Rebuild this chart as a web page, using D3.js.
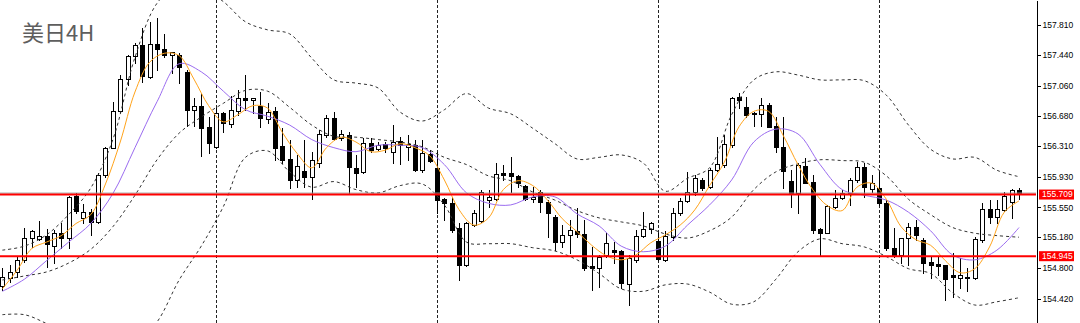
<!DOCTYPE html>
<html>
<head>
<meta charset="utf-8">
<script src="https://cdn.jsdelivr.net/npm/d3@7"></script>
<style>
body { margin: 0; background: #fff; }
svg { display: block; }
.axis text { font-family: "Liberation Sans", Arial, sans-serif; font-size: 8.5px; fill: #000; }
.axis path, .axis line { stroke: #000; shape-rendering: crispEdges; }
</style>
</head>
<body>
<svg id="chart" width="1080" height="323"></svg>
<script>
// USDJPY 4H candles
const opens = [154.58,154.68,154.75,154.90,155.17,155.16,155.20,155.07,155.23,155.17,155.69,155.42,155.49,155.37,155.95,156.29,156.75,157.14,157.43,157.56,
157.17,157.58,157.51,157.44,157.44,157.23,156.76,156.81,156.55,156.30,156.72,156.58,156.74,156.91,156.88,156.81,156.65,156.74,156.31,156.15,
155.89,156.00,155.93,156.10,156.45,156.66,156.41,156.45,156.04,155.99,156.35,156.27,156.34,156.24,156.37,156.30,156.32,156.01,156.21,156.04,
155.65,155.61,155.29,154.84,155.33,155.38,155.64,155.65,155.98,155.98,155.94,155.82,155.65,155.74,155.62,155.43,155.12,155.21,155.26,155.22,
154.82,154.80,154.96,155.02,155.01,154.60,154.90,155.20,155.28,155.13,154.90,155.18,155.48,155.63,155.74,155.89,155.80,156.01,156.08,156.32,
156.92,156.79,156.71,156.71,156.82,156.56,156.30,155.88,155.73,156.06,155.87,155.28,155.23,155.56,155.67,155.73,155.89,156.05,155.78,155.79,
155.60,155.05,154.96,155.17,155.31,155.15,154.87,154.85,154.84,154.71,154.68,154.69,154.68,155.15,155.53,155.43,155.52,155.62,155.77];
const highs = [154.80,154.84,154.94,155.30,155.27,155.38,155.28,155.27,155.36,155.69,155.73,155.59,155.53,155.98,156.30,156.86,157.19,157.44,157.59,157.77,
157.85,157.90,157.70,157.48,157.46,157.25,156.91,156.96,156.67,156.78,156.73,156.93,157.00,157.19,156.91,156.98,156.84,156.79,156.53,156.39,
156.20,156.39,156.24,156.51,156.70,156.73,156.51,156.49,156.20,156.41,156.41,156.36,156.36,156.57,156.42,156.45,156.39,156.39,156.26,156.24,
155.67,155.68,155.36,155.37,155.52,155.77,155.77,156.10,156.08,156.18,155.95,155.83,155.80,155.77,155.64,155.46,155.33,155.39,155.54,155.39,
155.06,154.96,155.23,155.12,155.02,154.96,155.27,155.49,155.37,155.23,155.26,155.54,155.67,155.99,155.95,155.91,156.04,156.42,156.45,156.92,
156.97,156.92,156.73,156.91,156.84,156.67,156.67,156.01,156.10,156.16,155.95,155.30,155.58,155.77,155.77,155.92,156.11,156.10,155.95,155.99,
155.64,155.30,155.17,155.36,155.39,155.17,154.94,154.95,154.84,154.99,154.92,154.80,155.18,155.60,155.64,155.64,155.74,155.78,155.79];
const lows = [154.53,154.63,154.69,154.87,155.06,155.15,154.81,154.86,155.05,155.05,155.48,155.36,155.21,155.36,155.93,156.29,156.73,157.07,157.34,157.10,
157.15,157.25,157.41,157.22,157.09,156.56,156.56,156.19,156.22,156.29,156.48,156.55,156.70,156.76,156.72,156.55,156.60,156.14,156.10,155.79,
155.80,155.80,155.65,156.05,156.42,156.39,156.39,155.73,155.80,155.98,156.24,156.26,156.24,156.10,156.09,156.14,156.00,155.99,156.11,155.48,
155.39,155.25,154.65,154.82,155.32,155.37,155.56,155.64,155.89,155.74,155.80,155.64,155.62,155.49,155.18,155.02,155.06,154.99,155.18,154.77,
154.53,154.56,154.94,154.86,154.55,154.34,154.87,155.18,155.23,154.90,154.89,155.15,155.46,155.62,155.70,155.77,155.79,156.00,156.05,156.30,
156.78,156.67,156.56,156.56,156.55,156.24,155.79,155.56,155.48,155.85,155.23,154.96,155.23,155.54,155.65,155.58,155.87,155.68,155.74,155.58,
155.02,154.94,154.86,154.84,155.15,154.74,154.68,154.71,154.40,154.44,154.55,154.51,154.66,155.12,155.36,155.36,155.51,155.42,155.65];
const closes = [154.69,154.75,154.90,155.17,155.26,155.20,155.09,155.23,155.17,155.68,155.51,155.49,155.37,155.95,156.29,156.75,157.14,157.43,157.56,157.18,
157.58,157.51,157.44,157.48,157.29,156.76,156.81,156.53,156.35,156.72,156.60,156.76,156.91,156.88,156.91,156.66,156.73,156.29,156.14,155.89,
156.06,155.93,156.14,156.46,156.66,156.40,156.46,156.05,155.98,156.35,156.26,156.32,156.29,156.36,156.32,156.34,156.01,156.22,156.13,155.64,
155.61,155.27,154.84,155.36,155.48,155.74,155.68,155.96,155.95,155.94,155.85,155.65,155.68,155.62,155.48,155.12,155.21,155.27,155.22,154.80,
154.80,154.94,155.11,155.00,154.61,154.92,155.20,155.28,155.36,154.91,155.20,155.48,155.63,155.74,155.91,155.79,156.01,156.09,156.34,156.91,
156.88,156.70,156.72,156.82,156.55,156.30,156.00,155.73,156.08,155.85,155.27,155.23,155.57,155.67,155.73,155.89,156.05,155.80,155.85,155.60,
155.05,154.96,155.17,155.31,155.21,154.86,154.84,154.82,154.66,154.69,154.71,154.68,155.16,155.53,155.43,155.53,155.69,155.77,155.71];

// fast MA (orange), read every 2nd bar
const maFast = [154.54,154.77,155.04,155.12,155.20,155.35,155.46,155.84,156.36,156.98,157.35,157.46,157.43,157.14,156.81,156.61,156.70,156.81,156.78,156.48,
156.22,156.04,156.29,156.42,156.36,156.24,156.26,156.34,156.29,156.19,155.89,155.52,155.33,155.42,155.77,155.88,155.82,155.64,155.41,155.25,
155.08,154.95,154.90,154.96,155.11,155.21,155.33,155.52,155.82,156.11,156.55,156.74,156.74,156.44,156.08,155.77,155.57,155.51,155.80,155.85,
155.65,155.31,155.15,155.08,154.89,154.74,154.79,155.06,155.49,155.63];
// slow MA (purple), read every 3rd bar
const maSlow = [154.51,154.66,154.89,155.12,155.35,155.72,156.29,156.86,157.33,157.23,156.99,156.76,156.68,156.57,156.39,156.29,156.24,156.32,156.32,156.29,
156.08,155.73,155.60,155.58,155.68,155.68,155.47,155.32,155.07,155.00,155.07,155.33,155.58,155.89,156.36,156.52,156.46,156.08,155.77,155.70,
155.64,155.49,155.26,154.96,154.90,155.02,155.30];
// dashed bands, read every 3rd bar
const bandUpper = [155.02,155.07,155.21,155.46,155.79,156.39,157.41,158.08,158.31,158.27,158.10,157.85,157.75,157.70,157.40,157.13,157.09,157.03,156.73,156.62,
156.76,156.96,156.78,156.71,156.53,156.34,156.15,156.17,156.20,156.10,155.75,155.91,156.04,156.70,157.13,157.23,157.19,157.13,157.13,157.12,
156.94,156.57,156.27,156.15,156.17,156.01,155.93];
const bandMid = [154.65,154.70,154.75,154.86,155.03,155.31,155.70,156.14,156.47,156.67,156.84,157.00,156.99,156.79,156.57,156.43,156.42,156.39,156.36,156.30,
156.17,156.08,155.94,155.88,155.74,155.64,155.51,155.42,155.37,155.32,155.22,155.17,155.26,155.43,155.77,155.99,156.09,156.14,156.13,156.11,
155.94,155.65,155.46,155.30,155.23,155.20,155.18];
const bandLower = [154.22,154.22,154.11,153.97,153.85,153.78,153.85,154.13,154.65,155.07,155.56,156.17,156.25,155.99,155.80,155.87,155.77,155.73,155.82,155.84,
155.58,155.12,155.10,155.10,155.05,155.01,154.90,154.73,154.54,154.51,154.59,154.60,154.50,154.35,154.38,154.66,155.00,155.16,155.10,155.06,
154.94,154.79,154.73,154.49,154.34,154.38,154.43];

const priceTicks = [157.81,157.44,157.06,156.68,156.31,155.93,155.55,155.18,154.80,154.42];
const levelLines = [155.709, 154.945];
const bidPrice = 155.727;
const weekStarts = [29, 59, 89, 119];
const title = "美日4H";

const width = 1080, height = 323, plotRight = 1036;

const svg = d3.select("#chart");

const x = d3.scaleLinear().domain([0, opens.length - 1]).range([2.35, 1019]);
const y = d3.scaleLinear().domain([154.117, 158.12]).range([height, 0]);

svg.append("defs").append("clipPath").attr("id", "plot")
    .append("rect").attr("x", 0).attr("y", 0).attr("width", plotRight).attr("height", height);

const plot = svg.append("g").attr("clip-path", "url(#plot)");

// weekly separators
plot.selectAll("line.sep")
    .data(weekStarts)
    .enter().append("line")
    .attr("class", "sep")
    .attr("x1", d => Math.round(x(d)) + 0.5)
    .attr("x2", d => Math.round(x(d)) + 0.5)
    .attr("y1", 0).attr("y2", height)
    .attr("stroke", "#222")
    .attr("stroke-dasharray", "3,2")
    .attr("shape-rendering", "crispEdges");

// candles
const bars = d3.range(opens.length);
const candle = plot.selectAll("g.candle")
    .data(bars)
    .enter().append("g")
    .attr("class", "candle")
    .attr("shape-rendering", "crispEdges");

candle.append("line")
    .attr("x1", i => Math.round(x(i)) + 0.5)
    .attr("x2", i => Math.round(x(i)) + 0.5)
    .attr("y1", i => Math.round(y(highs[i])))
    .attr("y2", i => Math.round(y(lows[i])) + 1)
    .attr("stroke", "#000");

candle.append("rect")
    .attr("x", i => Math.round(x(i)) - 2 + 0.5)
    .attr("y", i => Math.round(y(Math.max(opens[i], closes[i]))) + 0.5)
    .attr("width", 4)
    .attr("height", i => Math.max(1, Math.round(y(Math.min(opens[i], closes[i]))) - Math.round(y(Math.max(opens[i], closes[i])))))
    .attr("fill", i => closes[i] >= opens[i] ? "#fff" : "#000")
    .attr("stroke", "#000");

// indicator lines
function drawLine(values, step, color, dash) {
    const line = d3.line()
        .x((d, k) => x(k * step))
        .y(d => y(d))
        .curve(d3.curveCatmullRom);
    plot.append("path")
        .datum(values)
        .attr("d", line)
        .attr("fill", "none")
        .attr("stroke", color)
        .attr("stroke-width", 1)
        .attr("stroke-dasharray", dash);
}

drawLine(bandUpper, 3, "#333", "3,3");
drawLine(bandMid, 3, "#333", "3,3");
drawLine(bandLower, 3, "#333", "3,3");
drawLine(maSlow, 3, "#9b6cf0", null);
drawLine(maFast, 2, "#ffa31a", null);

// bid line + horizontal levels
plot.append("line")
    .attr("x1", 0).attr("x2", plotRight)
    .attr("y1", y(bidPrice)).attr("y2", y(bidPrice))
    .attr("stroke", "#a0a0a0").attr("stroke-width", 1);

plot.selectAll("line.level")
    .data(levelLines)
    .enter().append("line")
    .attr("class", "level")
    .attr("x1", 0).attr("x2", plotRight)
    .attr("y1", d => y(d)).attr("y2", d => y(d))
    .attr("stroke", "#ff0000").attr("stroke-width", 2);

// price axis
const axis = svg.append("g")
    .attr("class", "axis")
    .attr("transform", "translate(" + (plotRight + 0.5) + ",0)")
    .call(d3.axisRight(y).tickValues(priceTicks).tickFormat(d3.format(".3f")).tickSize(4).tickSizeOuter(0).tickPadding(2));

// level labels on the axis
const tags = svg.selectAll("g.tag")
    .data(levelLines)
    .enter().append("g")
    .attr("class", "tag")
    .attr("transform", d => "translate(1039," + y(d) + ")");

tags.append("rect")
    .attr("x", 0).attr("y", -5)
    .attr("width", 35).attr("height", 10)
    .attr("fill", "#ff0000");

tags.append("text")
    .attr("x", 3).attr("dy", "0.34em")
    .attr("fill", "#fff")
    .style("font-family", "'Liberation Sans', Arial, sans-serif")
    .style("font-size", "8.5px")
    .text(d => d3.format(".3f")(d));

// title
svg.append("text")
    .attr("x", 22).attr("y", 41)
    .attr("fill", "#5e5e5e")
    .style("font-family", "'Noto Sans CJK SC', sans-serif")
    .style("font-size", "22px")
    .text(title);
</script>
</body>
</html>
